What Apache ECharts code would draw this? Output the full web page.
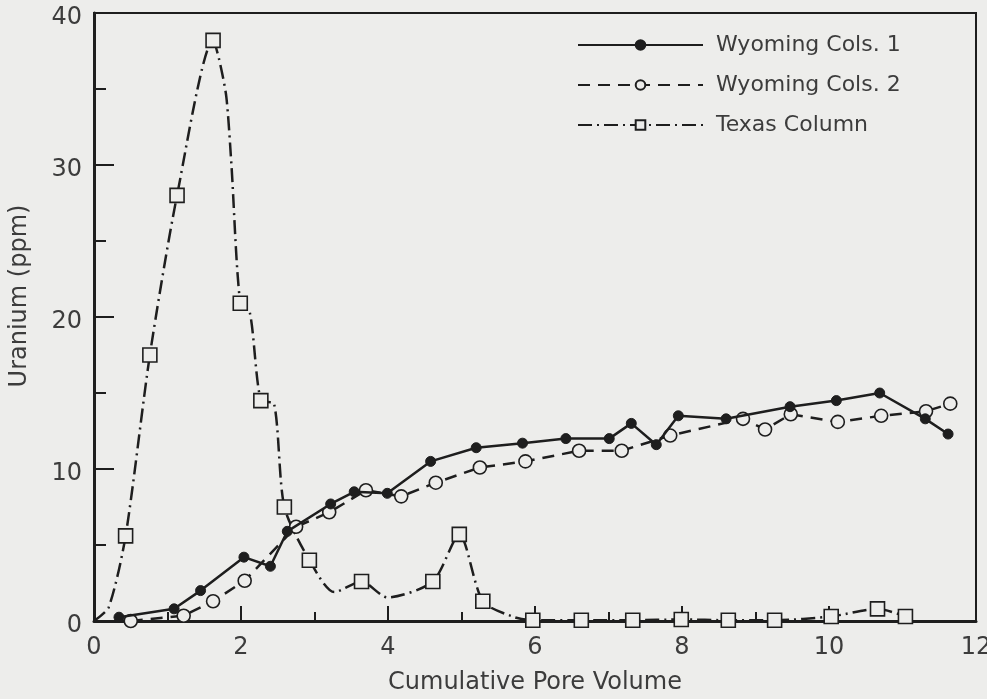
<!DOCTYPE html>
<html><head><meta charset="utf-8">
<script src="https://cdn.jsdelivr.net/npm/echarts@6/dist/echarts.min.js"></script>
<style>html,body{margin:0;padding:0;background:#ededeb;}#c{width:987px;height:699px;}</style>
</head><body><div id="c"></div>
<script>
// Wyoming Cols. 1 (filled circles, solid line)
var wy1X = [0.34,1.09,1.45,2.04,2.40,2.63,3.22,3.54,3.99,4.58,5.20,5.83,6.42,7.01,7.31,7.65,7.95,8.60,9.47,10.10,10.69,11.31,11.62];
var wy1Y = [0.25,0.8,2.0,4.2,3.6,5.9,7.7,8.5,8.4,10.5,11.4,11.7,12.0,12.0,13.0,11.6,13.5,13.3,14.1,14.5,15.0,13.3,12.3];
// Wyoming Cols. 2 (open circles, dashed line)
var wy2X = [0.50,1.22,1.62,2.05,2.75,3.20,3.70,4.18,4.65,5.25,5.87,6.60,7.18,7.84,8.83,9.13,9.48,10.12,10.71,11.32,11.65];
var wy2Y = [0.0,0.35,1.3,2.65,6.2,7.15,8.6,8.2,9.1,10.1,10.5,11.2,11.2,12.2,13.3,12.6,13.6,13.1,13.5,13.8,14.3];
// Texas Column (open squares)
var txX = [0.43,0.76,1.13,1.62,1.99,2.27,2.59,2.93,3.64,4.61,4.97,5.29,5.97,6.63,7.33,7.99,8.63,9.26,10.03,10.66,11.04];
var txY = [5.6,17.5,28.0,38.2,20.9,14.5,7.5,4.0,2.6,2.6,5.7,1.3,0.05,0.05,0.05,0.1,0.05,0.05,0.3,0.8,0.3];
// Texas hand-drawn curve points between markers
var txCurveX = [0.0,0.20,1.70,1.80,1.87,2.12,2.45,3.27,3.99,5.72];
var txCurveY = [0.0,0.9,37.0,34.5,30.0,20.3,14.3,1.9,1.55,0.25];

var xTicks = [0,2,4,6,8,10,12];
var yTicks = [0,10,20,30,40];

function pairs(xs, ys){ return xs.map(function(x,i){ return [x, ys[i]]; }); }
var txData = pairs(txX, txY).map(function(p){ return {value:p}; })
  .concat(pairs(txCurveX, txCurveY).map(function(p){ return {value:p, symbol:'none'}; }))
  .sort(function(a,b){ return a.value[0]-b.value[0]; });

var ink = '#1e1e1e', txt = '#3c3c3c', bg = '#ededeb';
var font = 'DejaVu Sans';
var chart = echarts.init(document.getElementById('c'));
chart.setOption({
  backgroundColor: bg,
  animation: false,
  textStyle: {fontFamily: font},
  grid: {left: 94, right: 11, top: 13, bottom: 78, show: true, borderColor: ink, borderWidth: 2,
    backgroundColor: 'transparent', outerBoundsMode: 'none', containLabel: false},
  legend: {
    orient: 'vertical', left: 572, top: 29, itemWidth: 125, itemHeight: 12, itemGap: 18,
    textStyle: {color: txt, fontSize: 22, lineHeight: 22, fontFamily: font, padding: [0,0,0,8]},
    data: ['Wyoming Cols. 1','Wyoming Cols. 2','Texas Column']
  },
  xAxis: {
    type: 'value', min: 0, max: 12, interval: 2,
    name: 'Cumulative Pore Volume', nameLocation: 'middle', nameGap: 50,
    nameTextStyle: {color: txt, fontSize: 24, fontFamily: font},
    axisLine: {lineStyle: {color: ink, width: 3}},
    axisTick: {inside: true, length: 15, lineStyle: {color: ink, width: 2}},
    minorTick: {show: true, splitNumber: 2, length: 9, lineStyle: {color: ink, width: 2}},
    axisLabel: {color: txt, fontSize: 24, margin: 15,
      formatter: function(v){ return xTicks.indexOf(v) >= 0 ? String(v) : ''; }},
    splitLine: {show: false}
  },
  yAxis: {
    type: 'value', min: 0, max: 40, interval: 10,
    name: 'Uranium (ppm)', nameLocation: 'middle', nameGap: 62,
    nameTextStyle: {color: txt, fontSize: 24, fontFamily: font, padding: [0,0,0,42]},
    axisLine: {lineStyle: {color: ink, width: 3}},
    axisTick: {inside: true, length: 20, lineStyle: {color: ink, width: 2}},
    minorTick: {show: true, splitNumber: 2, length: 12, lineStyle: {color: ink, width: 2}},
    axisLabel: {color: txt, fontSize: 24, margin: 12, verticalAlign: 'top', lineHeight: 10,
      formatter: function(v){ return yTicks.indexOf(v) >= 0 ? String(v) : ''; }},
    splitLine: {show: false}
  },
  series: [
    {
      name: 'Wyoming Cols. 1', type: 'line', data: pairs(wy1X, wy1Y),
      symbol: 'circle', symbolSize: 10, z: 4,
      lineStyle: {color: ink, width: 2.5, type: 'solid'},
      itemStyle: {color: ink, borderColor: ink, borderWidth: 1}
    },
    {
      name: 'Wyoming Cols. 2', type: 'line', data: pairs(wy2X, wy2Y),
      symbol: 'circle', symbolSize: 13, z: 3,
      lineStyle: {color: ink, width: 2.5, type: [12, 8]},
      itemStyle: {color: bg, borderColor: ink, borderWidth: 1.6}
    },
    {
      name: 'Texas Column', type: 'line', data: txData,
      symbol: 'rect', symbolSize: 14, smooth: 0.25, z: 2,
      lineStyle: {color: ink, width: 2.5, type: [14, 5, 2, 5]},
      itemStyle: {color: bg, borderColor: ink, borderWidth: 1.6}
    }
  ]
});
</script></body></html>
